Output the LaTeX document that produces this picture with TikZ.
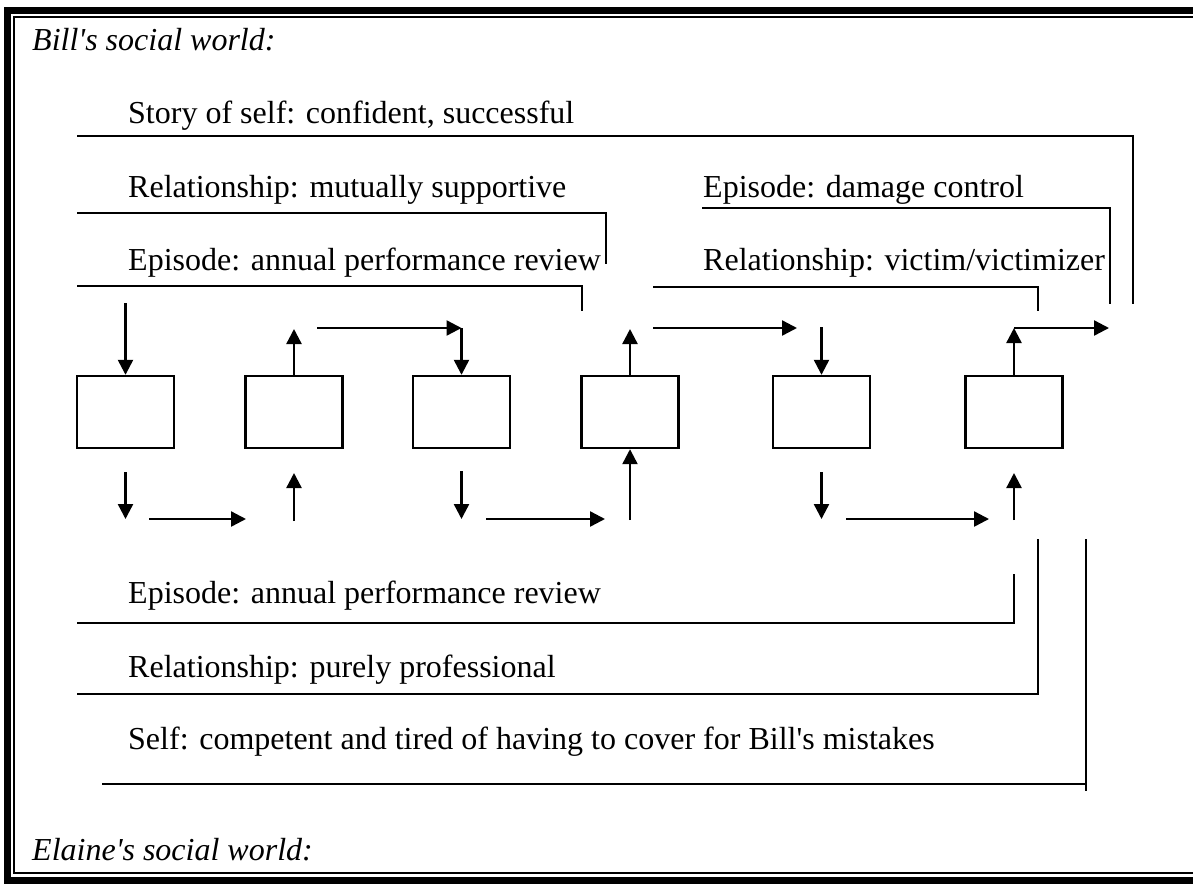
\documentclass[tikz,border=0pt]{standalone}
\usepackage{fontspec}
\newfontfamily\tnr{Liberation Serif}
\usetikzlibrary{arrows.meta}
\begin{document}
\begin{tikzpicture}[x=1pt,y=-1pt,line width=2.4pt,
  lbl/.style={anchor=base west,inner sep=0pt,font=\tnr\fontsize{32}{38}\selectfont},
  ilbl/.style={lbl,font=\tnr\itshape\fontsize{32}{38}\selectfont},
  box/.style={draw,line width=2.4pt,minimum width=97pt,minimum height=72pt,inner sep=0pt},
  arr/.style={-{Triangle[length=15pt,width=15pt]},line width=2.4pt},
  brk/.style={line width=2.4pt,line join=miter}]
\useasboundingbox (0,0) rectangle (1193,884);
\clip (0,0) rectangle (1193,884);
% frame
\draw[line width=7pt] (7,10.5) rectangle (1260,880.5);
\draw[line width=2pt] (14,16.5) rectangle (1250,872.5);
% texts
\node[ilbl] (tb) at (31,50) {Bill's social world:};
\node[lbl] (t1) at (127,123) {Story of self: confident, successful};
\node[lbl] (t2) at (127,197) {Relationship: mutually supportive};
\node[lbl] (t3) at (127,270) {Episode: annual performance review};
\node[lbl] (t4) at (702,197) {Episode: damage control};
\node[lbl] (t5) at (702,270) {Relationship: victim/victimizer};
\node[lbl] (t6) at (127,603) {Episode: annual performance review};
\node[lbl] (t7) at (127,677) {Relationship: purely professional};
\node[lbl] (t8) at (127,749) {Self: competent and tired of having to cover for Bill's mistakes};
\node[ilbl] (te) at (31,860) {Elaine's social world:};
% boxes
\node[box] (b1) at (125.5,412) {};
\node[box] (b2) at (294,412) {};
\node[box] (b3) at (461.5,412) {};
\node[box] (b4) at (630,412) {};
\node[box] (b5) at (821.5,412) {};
\node[box] (b6) at (1014,412) {};
% bracket coordinates
\coordinate (s1) at (77,136); \coordinate (s2) at (1133,136); \coordinate (s3) at (1133,304);
\coordinate (r1) at (77,213); \coordinate (r2) at (606,213); \coordinate (r3) at (606,264);
\coordinate (e1) at (77,286); \coordinate (e2) at (582,286); \coordinate (e3) at (582,311);
\coordinate (d1) at (702,208); \coordinate (d2) at (1110,208); \coordinate (d3) at (1110,304);
\coordinate (v1) at (653,287); \coordinate (v2) at (1038,287); \coordinate (v3) at (1038,311);
\coordinate (f1) at (77,623); \coordinate (f2) at (1014,623); \coordinate (f3) at (1014,574);
\coordinate (p1) at (77,694); \coordinate (p2) at (1038,694); \coordinate (p3) at (1038,539);
\coordinate (m1) at (102,784); \coordinate (m2) at (1086,784); \coordinate (m3) at (1086,539); \coordinate (m4) at (1086,791);
\draw[brk] (s1) -- (s2) -- (s3);
\draw[brk] (r1) -- (r2) -- (r3);
\draw[brk] (e1) -- (e2) -- (e3);
\draw[brk] (d1) -- (d2) -- (d3);
\draw[brk] (v1) -- (v2) -- (v3);
\draw[brk] (f1) -- (f2) -- (f3);
\draw[brk] (p1) -- (p2) -- (p3);
\draw[brk] (m1) -- (m2);
\draw[brk] (m3) -- (m4);
% top arrows
\coordinate (a1) at (125.5,303);
\coordinate (a2) at (294,329);
\coordinate (a3s) at (317,328); \coordinate (a3c) at (461.5,328);
\coordinate (a4) at (630,329);
\coordinate (a5s) at (653,328); \coordinate (a5e) at (797,328);
\coordinate (a6) at (821.5,327);
\coordinate (a7c) at (1014,328); \coordinate (a7e) at (1109,328);
\draw[arr] (a1) -- (b1.north);
\draw[arr] (b2.north) -- (a2);
\draw[arr] (a3s) -- (a3c);
\draw[arr] (a3c) -- (b3.north);
\draw[arr] (b4.north) -- (a4);
\draw[arr] (a5s) -- (a5e);
\draw[arr] (a6) -- (b5.north);
\draw[arr] (b6.north) -- (a7c);
\draw[arr] (a7c) -- (a7e);
% bottom arrows
\coordinate (c1s) at (125.5,472); \coordinate (c1e) at (125.5,519);
\coordinate (c2s) at (149,519); \coordinate (c2e) at (246,519);
\coordinate (c3s) at (294,521); \coordinate (c3e) at (294,473);
\coordinate (c4s) at (461.5,471); \coordinate (c4e) at (461.5,519);
\coordinate (c5s) at (486,519); \coordinate (c5e) at (605,519);
\coordinate (c6s) at (630,520);
\coordinate (c7s) at (821.5,472); \coordinate (c7e) at (821.5,519);
\coordinate (c8s) at (846,519); \coordinate (c8e) at (989,519);
\coordinate (c9s) at (1014,520); \coordinate (c9e) at (1014,473);
\draw[arr] (c1s) -- (c1e);
\draw[arr] (c2s) -- (c2e);
\draw[arr] (c3s) -- (c3e);
\draw[arr] (c4s) -- (c4e);
\draw[arr] (c5s) -- (c5e);
\draw[arr] (c6s) -- (b4.south);
\draw[arr] (c7s) -- (c7e);
\draw[arr] (c8s) -- (c8e);
\draw[arr] (c9s) -- (c9e);
\end{tikzpicture}
\end{document}
